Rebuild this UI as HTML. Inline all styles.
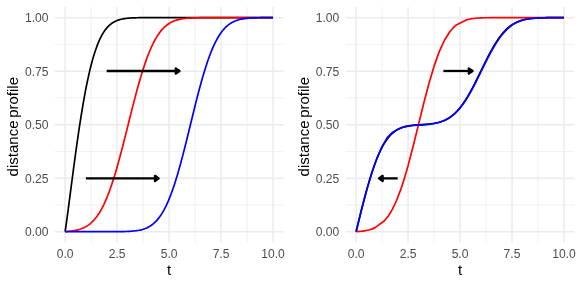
<!DOCTYPE html>
<html><head><meta charset="utf-8"><title>distance profiles</title>
<style>
html,body{margin:0;padding:0;background:#fff;}
body{width:581px;height:285px;overflow:hidden;}
svg{display:block;opacity:0.999;will-change:transform;font-family:"Liberation Sans",sans-serif;}
</style></head><body>
<svg width="581" height="285" viewBox="0 0 581 285">
<rect width="581" height="285" fill="#fff"/>
<g stroke="#ebebeb" stroke-width="0.75"><line x1="54.70" x2="283.40" y1="204.94" y2="204.94"/><line x1="54.70" x2="283.40" y1="151.42" y2="151.42"/><line x1="54.70" x2="283.40" y1="97.91" y2="97.91"/><line x1="54.70" x2="283.40" y1="44.39" y2="44.39"/><line x1="91.09" x2="91.09" y1="6.95" y2="242.40"/><line x1="143.08" x2="143.08" y1="6.95" y2="242.40"/><line x1="195.07" x2="195.07" y1="6.95" y2="242.40"/><line x1="247.06" x2="247.06" y1="6.95" y2="242.40"/></g>
<g stroke="#ebebeb" stroke-width="1.5"><line x1="54.70" x2="283.40" y1="231.70" y2="231.70"/><line x1="54.70" x2="283.40" y1="178.18" y2="178.18"/><line x1="54.70" x2="283.40" y1="124.66" y2="124.66"/><line x1="54.70" x2="283.40" y1="71.15" y2="71.15"/><line x1="54.70" x2="283.40" y1="17.63" y2="17.63"/><line x1="65.10" x2="65.10" y1="6.95" y2="242.40"/><line x1="117.09" x2="117.09" y1="6.95" y2="242.40"/><line x1="169.07" x2="169.07" y1="6.95" y2="242.40"/><line x1="221.06" x2="221.06" y1="6.95" y2="242.40"/><line x1="273.05" x2="273.05" y1="6.95" y2="242.40"/></g>
<path d="M65.10,231.70 L66.14,224.61 L67.18,217.13 L68.22,209.38 L69.26,201.47 L70.30,193.48 L71.34,185.47 L72.38,177.49 L73.42,169.58 L74.46,161.78 L75.50,154.12 L76.54,146.61 L77.58,139.29 L78.62,132.16 L79.66,125.24 L80.70,118.54 L81.74,112.08 L82.78,105.86 L83.82,99.89 L84.86,94.17 L85.89,88.71 L86.93,83.50 L87.97,78.56 L89.01,73.87 L90.05,69.43 L91.09,65.25 L92.13,61.32 L93.17,57.63 L94.21,54.17 L95.25,50.94 L96.29,47.93 L97.33,45.14 L98.37,42.55 L99.41,40.16 L100.45,37.95 L101.49,35.92 L102.53,34.05 L103.57,32.35 L104.61,30.79 L105.65,29.37 L106.69,28.08 L107.73,26.92 L108.77,25.86 L109.81,24.91 L110.85,24.05 L111.89,23.29 L112.93,22.60 L113.97,21.98 L115.01,21.44 L116.05,20.95 L117.09,20.52 L118.13,20.14 L119.17,19.81 L120.21,19.51 L121.25,19.25 L122.29,19.03 L123.33,18.83 L124.37,18.66 L125.41,18.51 L126.45,18.38 L127.48,18.27 L128.52,18.17 L129.56,18.09 L130.60,18.02 L131.64,17.96 L132.68,17.90 L133.72,17.86 L134.76,17.82 L135.80,17.79 L136.84,17.76 L137.88,17.74 L138.92,17.72 L139.96,17.71 L141.00,17.69 L142.04,17.68 L143.08,17.67 L144.12,17.66 L145.16,17.66 L146.20,17.65 L147.24,17.65 L148.28,17.65 L149.32,17.64 L150.36,17.64 L151.40,17.64 L152.44,17.64 L153.48,17.64 L154.52,17.63 L155.56,17.63 L156.60,17.63 L157.64,17.63 L158.68,17.63 L159.72,17.63 L160.76,17.63 L161.80,17.63 L162.84,17.63 L163.88,17.63 L164.92,17.63 L165.96,17.63 L167.00,17.63 L168.04,17.63 L169.07,17.63 L170.11,17.63 L171.15,17.63 L172.19,17.63 L173.23,17.63 L174.27,17.63 L175.31,17.63 L176.35,17.63 L177.39,17.63 L178.43,17.63 L179.47,17.63 L180.51,17.63 L181.55,17.63 L182.59,17.63 L183.63,17.63 L184.67,17.63 L185.71,17.63 L186.75,17.63 L187.79,17.63 L188.83,17.63 L189.87,17.63 L190.91,17.63 L191.95,17.63 L192.99,17.63 L194.03,17.63 L195.07,17.63 L196.11,17.63 L197.15,17.63 L198.19,17.63 L199.23,17.63 L200.27,17.63 L201.31,17.63 L202.35,17.63 L203.39,17.63 L204.43,17.63 L205.47,17.63 L206.51,17.63 L207.55,17.63 L208.59,17.63 L209.63,17.63 L210.66,17.63 L211.70,17.63 L212.74,17.63 L213.78,17.63 L214.82,17.63 L215.86,17.63 L216.90,17.63 L217.94,17.63 L218.98,17.63 L220.02,17.63 L221.06,17.63 L222.10,17.63 L223.14,17.63 L224.18,17.63 L225.22,17.63 L226.26,17.63 L227.30,17.63 L228.34,17.63 L229.38,17.63 L230.42,17.63 L231.46,17.63 L232.50,17.63 L233.54,17.63 L234.58,17.63 L235.62,17.63 L236.66,17.63 L237.70,17.63 L238.74,17.63 L239.78,17.63 L240.82,17.63 L241.86,17.63 L242.90,17.63 L243.94,17.63 L244.98,17.63 L246.02,17.63 L247.06,17.63 L248.10,17.63 L249.14,17.63 L250.18,17.63 L251.22,17.63 L252.26,17.63 L253.29,17.63 L254.33,17.63 L255.37,17.63 L256.41,17.63 L257.45,17.63 L258.49,17.63 L259.53,17.63 L260.57,17.63 L261.61,17.63 L262.65,17.63 L263.69,17.63 L264.73,17.63 L265.77,17.63 L266.81,17.63 L267.85,17.63 L268.89,17.63 L269.93,17.63 L270.97,17.63 L272.01,17.63 L273.05,17.63" fill="none" stroke="#000" stroke-width="1.7" stroke-linejoin="round" stroke-linecap="butt"/>
<path d="M65.10,231.70 L66.14,231.59 L67.18,231.49 L68.22,231.38 L69.26,231.26 L70.30,231.13 L71.34,231.00 L72.38,230.85 L73.42,230.69 L74.46,230.51 L75.50,230.32 L76.54,230.10 L77.58,229.85 L78.62,229.58 L79.66,229.28 L80.70,228.94 L81.74,228.57 L82.78,228.15 L83.82,227.70 L84.86,227.19 L85.89,226.63 L86.93,226.02 L87.97,225.34 L89.01,224.60 L90.05,223.80 L91.09,222.91 L92.13,221.95 L93.17,220.91 L94.21,219.78 L95.25,218.56 L96.29,217.25 L97.33,215.84 L98.37,214.32 L99.41,212.69 L100.45,210.96 L101.49,209.11 L102.53,207.15 L103.57,205.07 L104.61,202.86 L105.65,200.54 L106.69,198.09 L107.73,195.52 L108.77,192.82 L109.81,190.01 L110.85,187.07 L111.89,184.02 L112.93,180.84 L113.97,177.56 L115.01,174.17 L116.05,170.67 L117.09,167.08 L118.13,163.39 L119.17,159.62 L120.21,155.77 L121.25,151.85 L122.29,147.87 L123.33,143.83 L124.37,139.75 L125.41,135.63 L126.45,131.49 L127.48,127.33 L128.52,123.17 L129.56,119.00 L130.60,114.86 L131.64,110.73 L132.68,106.64 L133.72,102.59 L134.76,98.59 L135.80,94.65 L136.84,90.78 L137.88,86.99 L138.92,83.27 L139.96,79.65 L141.00,76.13 L142.04,72.71 L143.08,69.39 L144.12,66.19 L145.16,63.10 L146.20,60.13 L147.24,57.28 L148.28,54.55 L149.32,51.95 L150.36,49.47 L151.40,47.11 L152.44,44.87 L153.48,42.75 L154.52,40.76 L155.56,38.88 L156.60,37.11 L157.64,35.46 L158.68,33.91 L159.72,32.47 L160.76,31.12 L161.80,29.88 L162.84,28.73 L163.88,27.66 L164.92,26.68 L165.96,25.78 L167.00,24.95 L168.04,24.19 L169.07,23.50 L170.11,22.87 L171.15,22.30 L172.19,21.78 L173.23,21.31 L174.27,20.89 L175.31,20.51 L176.35,20.17 L177.39,19.86 L178.43,19.59 L179.47,19.35 L180.51,19.13 L181.55,18.94 L182.59,18.77 L183.63,18.62 L184.67,18.49 L185.71,18.37 L186.75,18.27 L187.79,18.18 L188.83,18.10 L189.87,18.04 L190.91,17.98 L191.95,17.93 L192.99,17.88 L194.03,17.84 L195.07,17.81 L196.11,17.78 L197.15,17.76 L198.19,17.74 L199.23,17.72 L200.27,17.71 L201.31,17.69 L202.35,17.68 L203.39,17.67 L204.43,17.67 L205.47,17.66 L206.51,17.66 L207.55,17.65 L208.59,17.65 L209.63,17.64 L210.66,17.64 L211.70,17.64 L212.74,17.64 L213.78,17.64 L214.82,17.64 L215.86,17.63 L216.90,17.63 L217.94,17.63 L218.98,17.63 L220.02,17.63 L221.06,17.63 L222.10,17.63 L223.14,17.63 L224.18,17.63 L225.22,17.63 L226.26,17.63 L227.30,17.63 L228.34,17.63 L229.38,17.63 L230.42,17.63 L231.46,17.63 L232.50,17.63 L233.54,17.63 L234.58,17.63 L235.62,17.63 L236.66,17.63 L237.70,17.63 L238.74,17.63 L239.78,17.63 L240.82,17.63 L241.86,17.63 L242.90,17.63 L243.94,17.63 L244.98,17.63 L246.02,17.63 L247.06,17.63 L248.10,17.63 L249.14,17.63 L250.18,17.63 L251.22,17.63 L252.26,17.63 L253.29,17.63 L254.33,17.63 L255.37,17.63 L256.41,17.63 L257.45,17.63 L258.49,17.63 L259.53,17.63 L260.57,17.63 L261.61,17.63 L262.65,17.63 L263.69,17.63 L264.73,17.63 L265.77,17.63 L266.81,17.63 L267.85,17.63 L268.89,17.63 L269.93,17.63 L270.97,17.63 L272.01,17.63 L273.05,17.63" fill="none" stroke="#f00" stroke-width="1.7" stroke-linejoin="round" stroke-linecap="butt"/>
<path d="M65.10,231.70 L66.14,231.70 L67.18,231.70 L68.22,231.70 L69.26,231.70 L70.30,231.70 L71.34,231.70 L72.38,231.70 L73.42,231.70 L74.46,231.70 L75.50,231.70 L76.54,231.70 L77.58,231.70 L78.62,231.70 L79.66,231.70 L80.70,231.70 L81.74,231.70 L82.78,231.70 L83.82,231.70 L84.86,231.70 L85.89,231.70 L86.93,231.70 L87.97,231.70 L89.01,231.70 L90.05,231.70 L91.09,231.70 L92.13,231.70 L93.17,231.70 L94.21,231.70 L95.25,231.70 L96.29,231.70 L97.33,231.70 L98.37,231.70 L99.41,231.70 L100.45,231.70 L101.49,231.70 L102.53,231.70 L103.57,231.70 L104.61,231.70 L105.65,231.70 L106.69,231.69 L107.73,231.69 L108.77,231.69 L109.81,231.69 L110.85,231.69 L111.89,231.68 L112.93,231.68 L113.97,231.67 L115.01,231.67 L116.05,231.66 L117.09,231.66 L118.13,231.65 L119.17,231.63 L120.21,231.62 L121.25,231.61 L122.29,231.59 L123.33,231.57 L124.37,231.54 L125.41,231.51 L126.45,231.48 L127.48,231.44 L128.52,231.39 L129.56,231.33 L130.60,231.27 L131.64,231.20 L132.68,231.11 L133.72,231.02 L134.76,230.90 L135.80,230.78 L136.84,230.63 L137.88,230.47 L138.92,230.28 L139.96,230.07 L141.00,229.83 L142.04,229.56 L143.08,229.26 L144.12,228.92 L145.16,228.54 L146.20,228.12 L147.24,227.65 L148.28,227.13 L149.32,226.56 L150.36,225.92 L151.40,225.22 L152.44,224.45 L153.48,223.61 L154.52,222.69 L155.56,221.69 L156.60,220.60 L157.64,219.41 L158.68,218.13 L159.72,216.75 L160.76,215.26 L161.80,213.66 L162.84,211.95 L163.88,210.12 L164.92,208.17 L165.96,206.10 L167.00,203.90 L168.04,201.57 L169.07,199.12 L170.11,196.53 L171.15,193.82 L172.19,190.97 L173.23,188.00 L174.27,184.91 L175.31,181.69 L176.35,178.35 L177.39,174.90 L178.43,171.34 L179.47,167.67 L180.51,163.91 L181.55,160.05 L182.59,156.11 L183.63,152.10 L184.67,148.02 L185.71,143.89 L186.75,139.70 L187.79,135.48 L188.83,131.23 L189.87,126.97 L190.91,122.70 L191.95,118.44 L192.99,114.19 L194.03,109.96 L195.07,105.78 L196.11,101.64 L197.15,97.55 L198.19,93.53 L199.23,89.59 L200.27,85.73 L201.31,81.96 L202.35,78.28 L203.39,74.71 L204.43,71.25 L205.47,67.90 L206.51,64.67 L207.55,61.57 L208.59,58.59 L209.63,55.74 L210.66,53.01 L211.70,50.42 L212.74,47.95 L213.78,45.61 L214.82,43.40 L215.86,41.32 L216.90,39.36 L217.94,37.52 L218.98,35.80 L220.02,34.19 L221.06,32.70 L222.10,31.30 L223.14,30.02 L224.18,28.82 L225.22,27.73 L226.26,26.72 L227.30,25.79 L228.34,24.94 L229.38,24.17 L230.42,23.46 L231.46,22.82 L232.50,22.24 L233.54,21.72 L234.58,21.24 L235.62,20.82 L236.66,20.44 L237.70,20.09 L238.74,19.79 L239.78,19.52 L240.82,19.28 L241.86,19.06 L242.90,18.88 L243.94,18.71 L244.98,18.56 L246.02,18.43 L247.06,18.32 L248.10,18.22 L249.14,18.14 L250.18,18.07 L251.22,18.00 L252.26,17.95 L253.29,17.90 L254.33,17.86 L255.37,17.82 L256.41,17.79 L257.45,17.77 L258.49,17.74 L259.53,17.73 L260.57,17.71 L261.61,17.70 L262.65,17.69 L263.69,17.68 L264.73,17.67 L265.77,17.66 L266.81,17.66 L267.85,17.65 L268.89,17.65 L269.93,17.64 L270.97,17.64 L272.01,17.64 L273.05,17.64" fill="none" stroke="#00f" stroke-width="1.7" stroke-linejoin="round" stroke-linecap="butt"/>
<g stroke="#000" stroke-width="2.3" stroke-linejoin="round" fill="#000"><line x1="106.69" y1="70.98" x2="179.47" y2="70.98"/><polygon points="175.77,68.38 179.47,70.98 175.77,73.58"/></g>
<g stroke="#000" stroke-width="2.3" stroke-linejoin="round" fill="#000"><line x1="85.89" y1="178.38" x2="158.68" y2="178.38"/><polygon points="154.98,175.78 158.68,178.38 154.98,180.98"/></g>
<text x="48.50" y="236.20" text-anchor="end" font-size="12.1" fill="#4d4d4d">0.00</text>
<text x="48.50" y="182.68" text-anchor="end" font-size="12.1" fill="#4d4d4d">0.25</text>
<text x="48.50" y="129.16" text-anchor="end" font-size="12.1" fill="#4d4d4d">0.50</text>
<text x="48.50" y="75.65" text-anchor="end" font-size="12.1" fill="#4d4d4d">0.75</text>
<text x="48.50" y="22.13" text-anchor="end" font-size="12.1" fill="#4d4d4d">1.00</text>
<text x="65.10" y="257.90" text-anchor="middle" font-size="12.1" fill="#4d4d4d">0.0</text>
<text x="117.09" y="257.90" text-anchor="middle" font-size="12.1" fill="#4d4d4d">2.5</text>
<text x="169.07" y="257.90" text-anchor="middle" font-size="12.1" fill="#4d4d4d">5.0</text>
<text x="221.06" y="257.90" text-anchor="middle" font-size="12.1" fill="#4d4d4d">7.5</text>
<text x="273.05" y="257.90" text-anchor="middle" font-size="12.1" fill="#4d4d4d">10.0</text>
<text x="169.05" y="274.60" text-anchor="middle" font-size="15" fill="#000">t</text>
<text transform="translate(18.40,176.40) rotate(-90)" word-spacing="-1.5" font-size="15" fill="#000">distance profile</text>
<g stroke="#ebebeb" stroke-width="0.75"><line x1="345.75" x2="574.30" y1="204.94" y2="204.94"/><line x1="345.75" x2="574.30" y1="151.42" y2="151.42"/><line x1="345.75" x2="574.30" y1="97.91" y2="97.91"/><line x1="345.75" x2="574.30" y1="44.39" y2="44.39"/><line x1="382.09" x2="382.09" y1="6.95" y2="242.40"/><line x1="434.06" x2="434.06" y1="6.95" y2="242.40"/><line x1="486.04" x2="486.04" y1="6.95" y2="242.40"/><line x1="538.01" x2="538.01" y1="6.95" y2="242.40"/></g>
<g stroke="#ebebeb" stroke-width="1.5"><line x1="345.75" x2="574.30" y1="231.70" y2="231.70"/><line x1="345.75" x2="574.30" y1="178.18" y2="178.18"/><line x1="345.75" x2="574.30" y1="124.66" y2="124.66"/><line x1="345.75" x2="574.30" y1="71.15" y2="71.15"/><line x1="345.75" x2="574.30" y1="17.63" y2="17.63"/><line x1="356.10" x2="356.10" y1="6.95" y2="242.40"/><line x1="408.08" x2="408.08" y1="6.95" y2="242.40"/><line x1="460.05" x2="460.05" y1="6.95" y2="242.40"/><line x1="512.02" x2="512.02" y1="6.95" y2="242.40"/><line x1="564.00" x2="564.00" y1="6.95" y2="242.40"/></g>
<path d="M356.10,231.70 L357.14,227.43 L358.18,223.17 L359.22,218.94 L360.26,214.73 L361.30,210.57 L362.34,206.46 L363.38,202.41 L364.42,198.43 L365.46,194.53 L366.50,190.71 L367.53,186.99 L368.57,183.37 L369.61,179.86 L370.65,176.46 L371.69,173.18 L372.73,170.02 L373.77,166.98 L374.81,164.07 L375.85,161.28 L376.89,158.63 L377.93,156.10 L378.97,153.71 L380.01,151.44 L381.05,149.30 L382.09,147.28 L383.13,145.39 L384.17,143.61 L385.21,141.95 L386.25,140.41 L387.29,138.97 L388.32,137.63 L389.36,136.40 L390.40,135.25 L391.44,134.20 L392.48,133.24 L393.52,132.36 L394.56,131.55 L395.60,130.81 L396.64,130.14 L397.68,129.53 L398.72,128.98 L399.76,128.48 L400.80,128.04 L401.84,127.63 L402.88,127.27 L403.92,126.95 L404.96,126.66 L406.00,126.40 L407.04,126.17 L408.08,125.97 L409.11,125.79 L410.15,125.63 L411.19,125.48 L412.23,125.36 L413.27,125.24 L414.31,125.14 L415.35,125.05 L416.39,124.96 L417.43,124.88 L418.47,124.81 L419.51,124.74 L420.55,124.67 L421.59,124.61 L422.63,124.54 L423.67,124.47 L424.71,124.40 L425.75,124.32 L426.79,124.24 L427.83,124.15 L428.87,124.05 L429.90,123.94 L430.94,123.82 L431.98,123.69 L433.02,123.54 L434.06,123.38 L435.10,123.19 L436.14,122.99 L437.18,122.76 L438.22,122.51 L439.26,122.24 L440.30,121.93 L441.34,121.60 L442.38,121.23 L443.42,120.82 L444.46,120.38 L445.50,119.90 L446.54,119.37 L447.58,118.80 L448.62,118.18 L449.66,117.52 L450.69,116.80 L451.73,116.02 L452.77,115.19 L453.81,114.30 L454.85,113.36 L455.89,112.35 L456.93,111.28 L457.97,110.14 L459.01,108.95 L460.05,107.68 L461.09,106.36 L462.13,104.96 L463.17,103.51 L464.21,101.99 L465.25,100.41 L466.29,98.77 L467.33,97.07 L468.37,95.31 L469.41,93.50 L470.44,91.64 L471.48,89.73 L472.52,87.78 L473.56,85.79 L474.60,83.77 L475.64,81.71 L476.68,79.63 L477.72,77.53 L478.76,75.41 L479.80,73.28 L480.84,71.15 L481.88,69.01 L482.92,66.88 L483.96,64.77 L485.00,62.66 L486.04,60.58 L487.08,58.53 L488.12,56.50 L489.16,54.51 L490.20,52.56 L491.24,50.65 L492.27,48.79 L493.31,46.98 L494.35,45.23 L495.39,43.53 L496.43,41.89 L497.47,40.31 L498.51,38.79 L499.55,37.33 L500.59,35.94 L501.63,34.61 L502.67,33.35 L503.71,32.15 L504.75,31.02 L505.79,29.95 L506.83,28.94 L507.87,27.99 L508.91,27.10 L509.95,26.27 L510.99,25.50 L512.02,24.78 L513.06,24.11 L514.10,23.50 L515.14,22.93 L516.18,22.40 L517.22,21.92 L518.26,21.48 L519.30,21.07 L520.34,20.70 L521.38,20.37 L522.42,20.07 L523.46,19.79 L524.50,19.54 L525.54,19.32 L526.58,19.12 L527.62,18.94 L528.66,18.78 L529.70,18.63 L530.74,18.51 L531.78,18.39 L532.82,18.29 L533.85,18.21 L534.89,18.13 L535.93,18.06 L536.97,18.00 L538.01,17.95 L539.05,17.90 L540.09,17.86 L541.13,17.83 L542.17,17.80 L543.21,17.77 L544.25,17.75 L545.29,17.73 L546.33,17.72 L547.37,17.70 L548.41,17.69 L549.45,17.68 L550.49,17.67 L551.53,17.67 L552.57,17.66 L553.61,17.65 L554.64,17.65 L555.68,17.65 L556.72,17.64 L557.76,17.64 L558.80,17.64 L559.84,17.64 L560.88,17.64 L561.92,17.64 L562.96,17.63 L564.00,17.63" fill="none" stroke="#000" stroke-width="1.7" stroke-linejoin="round" stroke-linecap="butt"/>
<path d="M356.10,231.70 L359.22,231.41 L362.34,231.06 L365.46,230.61 L368.57,229.98 L371.69,229.10 L374.81,227.89 L384.46,220.80 L388.32,215.96 L392.48,209.08 L396.64,200.26 L400.80,189.39 L404.54,177.88 L408.08,165.65 L413.27,145.80 L418.47,124.67 L423.67,103.53 L428.87,83.68 L434.06,66.14 L439.26,51.59 L444.46,40.25 L449.66,31.93 L452.77,28.22 L456.31,24.99 L466.29,19.93 L470.44,18.96 L475.64,18.27 L480.84,17.92 L486.04,17.75 L491.24,17.68 L496.43,17.65 L501.63,17.64 L506.83,17.63 L512.02,17.63 L517.22,17.63 L522.42,17.63 L527.62,17.63 L532.82,17.63 L538.01,17.63 L543.21,17.63 L548.41,17.63 L553.61,17.63 L558.80,17.63 L564.00,17.63" fill="none" stroke="#f00" stroke-width="1.7" stroke-linejoin="round" stroke-linecap="butt"/>
<path d="M356.10,231.70 L361.30,210.57 L366.50,190.71 L371.69,173.17 L376.89,158.46 L382.09,146.51 L387.29,137.68 L392.48,132.47 L397.68,129.37 L402.88,127.29 L408.08,126.05 L413.27,125.42 L418.47,125.10 L423.67,124.79 L428.87,124.30 L434.06,123.52 L439.26,122.31 L444.46,120.45 L449.66,117.66 L454.85,113.62 L460.05,108.10 L465.25,100.99 L470.44,92.36 L475.64,82.52 L480.84,71.99 L486.04,61.41 L491.24,51.41 L496.43,42.54 L501.63,35.13 L506.83,29.33 L512.02,25.06 L517.22,22.11 L522.42,20.18 L527.62,19.01 L532.82,18.33 L538.01,17.97 L543.21,17.78 L548.41,17.70 L553.61,17.66 L558.80,17.64 L564.00,17.63" fill="none" stroke="#00f" stroke-width="1.7" stroke-linejoin="round" stroke-linecap="butt"/>
<g stroke="#000" stroke-width="2.3" stroke-linejoin="round" fill="#000"><line x1="443.42" y1="70.98" x2="472.52" y2="70.98"/><polygon points="468.82,68.38 472.52,70.98 468.82,73.58"/></g>
<g stroke="#000" stroke-width="2.3" stroke-linejoin="round" fill="#000"><line x1="397.68" y1="178.38" x2="378.97" y2="178.38"/><polygon points="382.67,175.78 378.97,178.38 382.67,180.98"/></g>
<text x="339.30" y="236.20" text-anchor="end" font-size="12.1" fill="#4d4d4d">0.00</text>
<text x="339.30" y="182.68" text-anchor="end" font-size="12.1" fill="#4d4d4d">0.25</text>
<text x="339.30" y="129.16" text-anchor="end" font-size="12.1" fill="#4d4d4d">0.50</text>
<text x="339.30" y="75.65" text-anchor="end" font-size="12.1" fill="#4d4d4d">0.75</text>
<text x="339.30" y="22.13" text-anchor="end" font-size="12.1" fill="#4d4d4d">1.00</text>
<text x="356.10" y="257.90" text-anchor="middle" font-size="12.1" fill="#4d4d4d">0.0</text>
<text x="408.08" y="257.90" text-anchor="middle" font-size="12.1" fill="#4d4d4d">2.5</text>
<text x="460.05" y="257.90" text-anchor="middle" font-size="12.1" fill="#4d4d4d">5.0</text>
<text x="512.02" y="257.90" text-anchor="middle" font-size="12.1" fill="#4d4d4d">7.5</text>
<text x="564.00" y="257.90" text-anchor="middle" font-size="12.1" fill="#4d4d4d">10.0</text>
<text x="460.02" y="274.60" text-anchor="middle" font-size="15" fill="#000">t</text>
<text transform="translate(309.20,176.40) rotate(-90)" word-spacing="-1.5" font-size="15" fill="#000">distance profile</text>
</svg>
</body></html>
